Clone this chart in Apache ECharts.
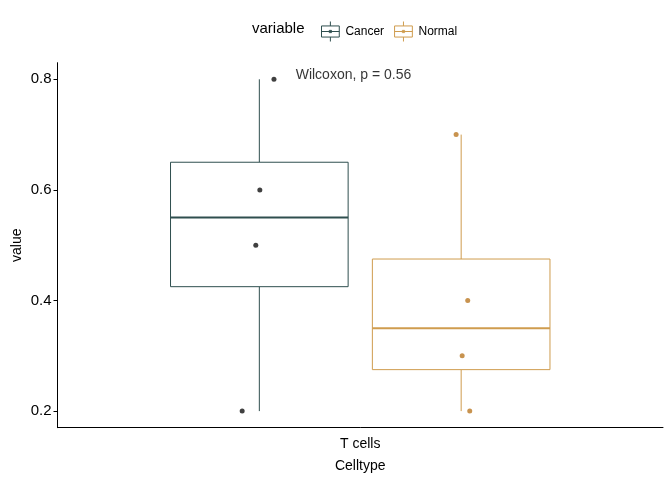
<!DOCTYPE html>
<html>
<head>
<meta charset="utf-8">
<script src="https://cdn.jsdelivr.net/npm/echarts@6/dist/echarts.min.js"></script>
<style>html,body{margin:0;padding:0;background:#fff}#c{width:672px;height:480px}</style>
</head>
<body>
<div id="c"></div>
<script>
var categories = ['T cells'];
var groups = ['Cancer', 'Normal'];
var colors = ['#2F4F4F', '#CF9C4E'];
var pointColors = ['#404040', '#C8934F'];
// boxplot stats: [xCenter, min, q1, median, q3, max]
var cancerBox = [0.8, 0.2, 0.425, 0.55, 0.65, 0.8];
var normalBox = [1.2, 0.2, 0.275, 0.35, 0.475, 0.7];
// jittered points [x, value]
var cancerPoints = [[0.829, 0.8], [0.801, 0.6], [0.793, 0.5], [0.766, 0.2]];
var normalPoints = [[1.190, 0.7], [1.213, 0.4], [1.202, 0.3], [1.217, 0.2]];
var yTicks = [0.2, 0.4, 0.6, 0.8];
var annotation = {x: 0.872, y: 0.808, text: 'Wilcoxon, p = 0.56'};
var boxHalfWidth = 0.176;

var chart = echarts.init(document.getElementById('c'), null, {renderer: 'canvas'});

function boxRender(color) {
  return function (params, api) {
    var xc = api.value(0), mn = api.value(1), q1 = api.value(2), md = api.value(3), q3 = api.value(4), mx = api.value(5);
    var pMax = api.coord([xc, mx]), pQ3 = api.coord([xc, q3]), pQ1 = api.coord([xc, q1]), pMin = api.coord([xc, mn]);
    var l = api.coord([xc - boxHalfWidth, md])[0], r = api.coord([xc + boxHalfWidth, md])[0];
    var yMd = api.coord([xc, md])[1];
    var st = {stroke: color, lineWidth: 1, fill: null};
    return {
      type: 'group',
      children: [
        {type: 'line', shape: {x1: pMax[0], y1: pMax[1], x2: pQ3[0], y2: pQ3[1]}, style: st},
        {type: 'line', shape: {x1: pQ1[0], y1: pQ1[1], x2: pMin[0], y2: pMin[1]}, style: st},
        {type: 'rect', shape: {x: l, y: pQ3[1], width: r - l, height: pQ1[1] - pQ3[1]}, style: {stroke: color, lineWidth: 1, fill: '#fff'}},
        {type: 'line', shape: {x1: l, y1: yMd, x2: r, y2: yMd}, style: {stroke: color, lineWidth: 2}}
      ]
    };
  };
}

var legendIcon = 'path://M2,4 L18,4 L18,14 L2,14 Z M10,0 L10,4 M10,14 L10,18 M2,9 L18,9 M9,8 L11,8 L11,10 L9,10 Z';

chart.setOption({
  animation: false,
  backgroundColor: '#fff',
  textStyle: {fontFamily: 'Liberation Sans, Arial, sans-serif'},
  graphic: [{type: 'text', left: 252, top: 21, style: {text: 'variable', fontSize: 15, fill: '#000', fontFamily: 'Liberation Sans, Arial, sans-serif'}}],
  legend: {
    left: 316, top: 16, itemWidth: 20, itemHeight: 20, itemGap: 10,
    textStyle: {fontSize: 12, color: '#000'},
    data: [
      {name: groups[0], icon: legendIcon, itemStyle: {color: 'transparent', borderColor: colors[0], borderWidth: 1}},
      {name: groups[1], icon: legendIcon, itemStyle: {color: 'transparent', borderColor: colors[1], borderWidth: 1}}
    ]
  },
  grid: {left: 57.5, right: 9, top: 62.7, bottom: 52.3, containLabel: false, outerBoundsMode: 'none'},
  xAxis: [
    {
      type: 'category', data: categories, boundaryGap: true,
      name: 'Celltype', nameLocation: 'middle', nameGap: 31,
      nameTextStyle: {fontSize: 14, color: '#000'},
      axisLine: {lineStyle: {color: '#000', width: 1}},
      axisTick: {alignWithLabel: true, length: 4, lineStyle: {color: '#000'}},
      axisLabel: {fontSize: 14, color: '#000', margin: 9},
      splitLine: {show: false}
    },
    {type: 'value', min: 0.4, max: 1.6, show: false, splitLine: {show: false}}
  ],
  yAxis: {
    type: 'value', min: 0.17, max: 0.83,
    name: 'value', nameLocation: 'middle', nameGap: 33, nameMoveOverlap: false,
    nameTextStyle: {fontSize: 14, color: '#000'},
    axisLine: {show: true, lineStyle: {color: '#000', width: 1}},
    axisTick: {show: true, length: 4, lineStyle: {color: '#000'}, customValues: yTicks},
    axisLabel: {fontSize: 15, color: '#000', margin: 6, customValues: yTicks, formatter: function (v) { return v.toFixed(1); }},
    splitLine: {show: false}
  },
  series: [
    {name: groups[0], type: 'custom', xAxisIndex: 1, renderItem: boxRender(colors[0]), data: [cancerBox], itemStyle: {color: colors[0]}, z: 2},
    {name: groups[1], type: 'custom', xAxisIndex: 1, renderItem: boxRender(colors[1]), data: [normalBox], itemStyle: {color: colors[1]}, z: 2},
    {name: groups[0], type: 'scatter', xAxisIndex: 1, data: cancerPoints, symbolSize: 5, itemStyle: {color: pointColors[0], opacity: 1}, z: 5},
    {name: groups[1], type: 'scatter', xAxisIndex: 1, data: normalPoints, symbolSize: 5, itemStyle: {color: pointColors[1], opacity: 1}, z: 5},
    {name: 'annotation', type: 'scatter', xAxisIndex: 1, data: [[annotation.x, annotation.y]], symbolSize: 0, silent: true,
      label: {show: true, position: 'right', distance: 0, formatter: annotation.text, fontSize: 14, color: '#000'}, z: 6}
  ]
});
</script>
</body>
</html>
